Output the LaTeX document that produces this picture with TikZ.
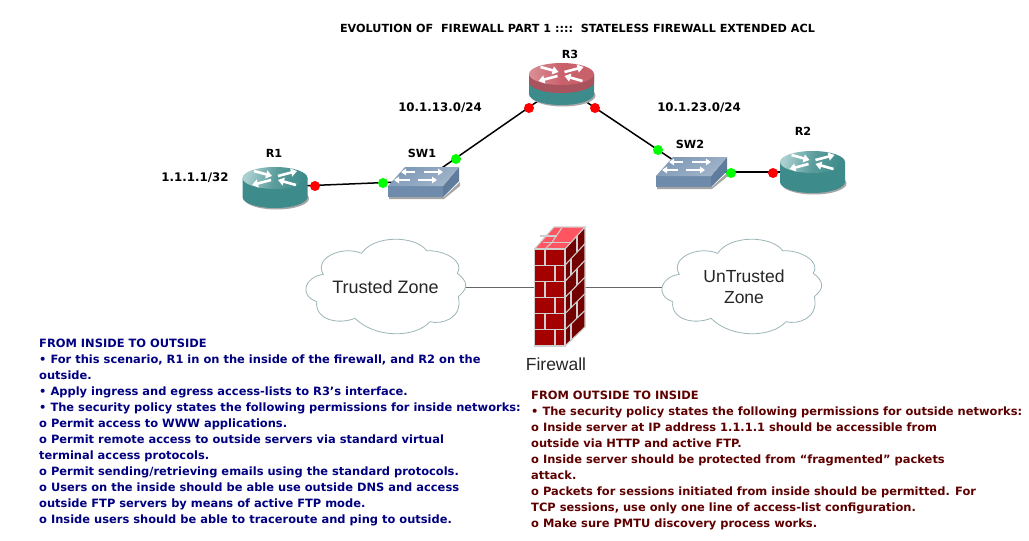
\documentclass[tikz,border=0pt]{standalone}
\usepackage{fontspec}
\setmainfont{DejaVu Sans}
\newfontfamily\arialfont{Liberation Sans}
\usetikzlibrary{arrows.meta}
\definecolor{teal1}{HTML}{3E8B8B}
\definecolor{teal2}{HTML}{A9CFCF}
\definecolor{swA}{HTML}{A3B6CB}
\definecolor{swB}{HTML}{7C97B5}
\definecolor{swF}{HTML}{6E8BAC}
\definecolor{swC}{HTML}{5F7C9C}
\definecolor{navyT}{HTML}{000080}
\definecolor{maroonT}{HTML}{5E0000}
\definecolor{brick}{HTML}{A50000}
\definecolor{brickD}{HTML}{720000}
\definecolor{brickT}{HTML}{FF5560}
\definecolor{mortar}{HTML}{CFCFCF}
\definecolor{cloudE}{HTML}{9DB4B8}
\definecolor{rtop}{HTML}{C9616B}
\definecolor{rtopL}{HTML}{DB8F96}
\definecolor{rband}{HTML}{A9535E}
\tikzset{
  devbox/.style={inner sep=0pt,outer sep=0pt,draw=none},
  link/.style={draw=black,line width=1.5pt},
  zonelink/.style={draw=black!60,line width=1pt},
  reddot/.style={circle,fill=red,inner sep=0pt,minimum size=10pt},
  greendot/.style={circle,fill=green,inner sep=0pt,minimum size=10pt},
  lab/.style={inner sep=0pt,font=\fontsize{11.2}{13}\selectfont\bfseries},
  netlab/.style={inner sep=0pt,font=\fontsize{11.8}{13}\selectfont\bfseries},
  zonetext/.style={inner sep=0pt,align=center,text=black!85,font=\arialfont\fontsize{17.5}{21}\selectfont},
  bodytext/.style={inner sep=0pt,anchor=north west,align=left,font=\fontsize{11.45}{16}\selectfont\bfseries},
  wharrow/.style={draw=white,line width=2.6pt,-{Triangle[length=6pt,width=8pt]}},
  swarrow/.style={draw=white,line width=2pt,-{Triangle[length=5pt,width=6.5pt]}},
}
\newcommand{\routerarrows}[2]{%
  \begin{scope}[shift={(#1,#2)}]
    \draw[wharrow] (-21,-7) -- (-3,-2);
    \draw[wharrow] (3,-2) -- (22,-7);
    \draw[wharrow] (-4,2) -- (-23,7);
    \draw[wharrow] (21,7) -- (3,2);
  \end{scope}}
% plain router: x centre, y of the top disc, y of the bottom disc
\newcommand{\routerplain}[3]{%
  \fill[black!35] (#1+1.5,#3+1.5) ellipse (32.5 and 11);
  \fill[teal1] (#1-32.5,#2) -- (#1-32.5,#3) arc[start angle=180,end angle=0,x radius=32.5,y radius=11] -- (#1+32.5,#2) -- cycle;
  \shade[left color=teal2,right color=teal1,middle color=teal1!85!white,shading angle=75] (#1,#2) ellipse (32.5 and 11);
  \routerarrows{#1}{#2}}
\newcommand{\switchbody}[2]{%
  \begin{scope}[shift={(#1,#2)}]
    \fill[black!35] (1,11) -- (56,11) -- (72,-4) -- (72,0) -- (56,13) -- (1,13) -- cycle;
    \fill[swF] (0,0) rectangle (55,11);
    \fill[swC] (55,0) -- (71,-19) -- (71,-5) -- (55,11) -- cycle;
    \shade[left color=swB,right color=swA,shading angle=30] (0,0) -- (17,-19) -- (71,-19) -- (55,0) -- cycle;
    \draw[swarrow] (27,-14) -- (13,-14);
    \draw[swarrow] (36,-14) -- (55,-14);
    \draw[swarrow] (22,-6) -- (6,-6);
    \draw[swarrow] (30,-6) -- (49,-6);
  \end{scope}}
\newcommand{\cloudbody}[2]{%
  \begin{scope}[shift={(#1,#2)},x=0.3333pt,y=-0.3333pt]
    \filldraw[fill=white,draw=cloudE,line width=0.8pt]
      (487,130) .. controls (510,95) and (450,60) .. (395,62)
      .. controls (360,15) and (235,15) .. (200,70)
      .. controls (140,45) and (55,85) .. (85,133)
      .. controls (30,140) and (10,195) .. (65,215)
      .. controls (60,270) and (130,285) .. (180,265)
      .. controls (240,325) and (360,325) .. (405,275)
      .. controls (440,285) and (505,265) .. (490,200)
      .. controls (520,175) and (520,155) .. (487,130) -- cycle;
  \end{scope}}
\begin{document}
\begin{tikzpicture}[x=1pt,y=-1pt]
\useasboundingbox (0,0) rectangle (1029,541);
\fill[white] (0,0) rectangle (1029,541);
% anchors of the devices
\node[devbox,minimum width=65pt,minimum height=42pt] (R1) at (275,187) {};
\node[devbox,minimum width=65pt,minimum height=42pt] (R2) at (812,172) {};
\node[devbox,minimum width=65pt,minimum height=42pt] (R3) at (561,85) {};
\node[devbox,minimum width=70pt,minimum height=30pt] (SW1) at (423,181) {};
\node[devbox,minimum width=70pt,minimum height=30pt] (SW2) at (691,172) {};
\node[devbox,minimum width=170pt,minimum height=90pt] (TZ) at (378,287) {};
\node[devbox,minimum width=170pt,minimum height=90pt] (UZ) at (734,287) {};
\node[devbox,minimum width=50pt,minimum height=118pt] (FW) at (560,287) {};
% connectors
\draw[link] (R1.center) -- (SW1.center);
\draw[link] (SW1.center) -- (R3.center);
\draw[link] (R3.center) -- (SW2.center);
\draw[link] (SW2.center) -- (R2.center);
\draw[zonelink] (TZ.center) -- (FW.center);
\draw[zonelink] (FW.center) -- (UZ.center);
% devices
\routerplain{275}{178}{197}
\routerplain{812.5}{162}{182}
% R3
\fill[black!35] (563,95.5) ellipse (32.5 and 11);
\fill[teal1] (529,74) -- (529,94) arc[start angle=180,end angle=0,x radius=32.5,y radius=11] -- (594,74) -- cycle;
\fill[rband] (529,74) -- (529,82) arc[start angle=180,end angle=0,x radius=32.5,y radius=11] -- (594,74) -- cycle;
\shade[left color=rtopL,right color=rtop,middle color=rtop] (561.5,74) ellipse (32.5 and 11);
\routerarrows{561.5}{74}
\switchbody{388}{186}
\switchbody{656}{176}
% clouds
\cloudbody{295}{230}
\cloudbody{651}{230}
\node[zonetext,font=\arialfont\fontsize{18}{21}\selectfont] (TZt) at (385.5,287) {Trusted Zone};
\node[zonetext] (UZt) at (744,287) {UnTrusted\\Zone};
% firewall
\fill[brick] (534.5,249) rectangle (565,346);
\fill[brickD] (565,249) -- (585,227) -- (585,327) -- (565,346) -- cycle;
\fill[brickT] (534.5,249) -- (554,227) -- (585,227) -- (565,249) -- cycle;
\begin{scope}[mortar,line width=1.1pt]
  \draw (534.5,249) rectangle (565,346);
  \draw (565,249) -- (585,227) -- (585,327) -- (565,346);
  \draw (534.5,249) -- (554,227) -- (585,227);
  \foreach \k in {1,...,5} {
    \draw (534.5,249+16.17*\k) -- (565,249+16.17*\k);
    \draw (565,249+16.17*\k) -- (585,227+16.67*\k);
  }
  \foreach \k in {0,2,4} {
    \draw (545,249+16.17*\k) -- (545,249+16.17*\k+16.17);
    \draw (577,235.8+16.47*\k) -- (577,235.8+16.47*\k+16.47);
  }
  \foreach \k in {1,3,5} {
    \draw (555,249+16.17*\k) -- (555,249+16.17*\k+16.17);
    \draw (571,242.4+16.32*\k) -- (571,242.4+16.32*\k+16.32);
  }
  \draw (540,236) -- (557,236);
  \draw (561.7,228) -- (551.7,242.7);
  \draw (543.3,242.7) -- (570,242.7);
  \draw (551.7,242.7) -- (545,249);
\end{scope}
\node[zonetext] (FWt) at (556,364) {Firewall};
% port dots
\node[reddot] (p1) at (315,186) {};
\node[greendot] (p2) at (383,183) {};
\node[greendot] (p3) at (456,159) {};
\node[reddot] (p4) at (529,108) {};
\node[reddot] (p5) at (595,108) {};
\node[greendot] (p6) at (658,150) {};
\node[greendot] (p7) at (731,173) {};
\node[reddot] (p8) at (773,173) {};
% labels
\node[lab] (title) at (577.5,28) {EVOLUTION OF\ \ FIREWALL PART 1 ::::\ \ STATELESS FIREWALL EXTENDED ACL};
\node[lab] (lR1) at (274,153) {R1};
\node[lab] (lSW1) at (422,153) {SW1};
\node[lab] (lR3) at (570,54) {R3};
\node[lab] (lSW2) at (690,144) {SW2};
\node[lab] (lR2) at (803,131) {R2};
\node[netlab] (n1) at (195,178) {1.1.1.1/32};
\node[netlab] (n2) at (440,108) {10.1.13.0/24};
\node[netlab] (n3) at (699,108) {10.1.23.0/24};
\node[bodytext,text=navyT] (left) at (39,338.5) {FROM INSIDE TO OUTSIDE\\
• For this scenario, R1 in on the inside of the firewall, and R2 on the\\
outside.\\
• Apply ingress and egress access-lists to R3’s interface.\\
• The security policy states the following permissions for inside networks:\\
o Permit access to WWW applications.\\
o Permit remote access to outside servers via standard virtual\\
terminal access protocols.\\
o Permit sending/retrieving emails using the standard protocols.\\
o Users on the inside should be able use outside DNS and access\\
outside FTP servers by means of active FTP mode.\\
o Inside users should be able to traceroute and ping to outside.};
\node[bodytext,text=maroonT] (right) at (531,390.5) {FROM OUTSIDE TO INSIDE\\
• The security policy states the following permissions for outside networks:\\
o Inside server at IP address 1.1.1.1 should be accessible from\\
outside via HTTP and active FTP.\\
o Inside server should be protected from “fragmented” packets\\
attack.\\
o Packets for sessions initiated from inside should be permitted. For\\
TCP sessions, use only one line of access-list configuration.\\
o Make sure PMTU discovery process works.};
\end{tikzpicture}
\end{document}
